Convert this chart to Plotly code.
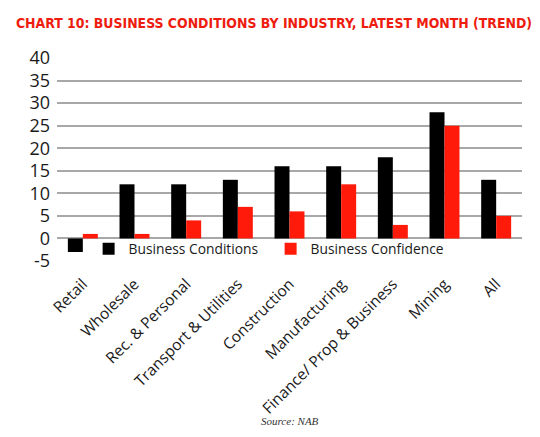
import plotly.graph_objects as go

categories = ["Retail", "Wholesale", "Rec. & Personal", "Transport & Utilities",
              "Construction", "Manufacturing", "Finance/ Prop & Business", "Mining", "All"]
business_conditions = [-3, 12, 12, 13, 16, 16, 18, 28, 13]
business_confidence = [1, 1, 4, 7, 6, 12, 3, 25, 5]
y_ticks = [-5, 0, 5, 10, 15, 20, 25, 30, 35, 40]
y_tick_labels = ["-5", "0", "5", "10", "15", "20", "25", "30", "35", "40"]

Y_MIN, Y_MAX = -5, 40

fig = go.Figure()
fig.add_trace(go.Bar(x=categories, y=business_conditions, name="Business Conditions",
                     marker=dict(color="#000000", line=dict(width=0))))
fig.add_trace(go.Bar(x=categories, y=business_confidence, name="Business Confidence",
                     marker=dict(color="#ff1a0a", line=dict(width=0))))

fig.update_layout(
    width=532, height=429,
    margin=dict(l=49, r=18, t=50, b=176, autoexpand=False),
    paper_bgcolor="white", plot_bgcolor="white",
    barmode="group", bargap=0.42, bargroupgap=0,
    font=dict(family="Open Sans", color="#1a1a1a"),
    title=dict(text="<b>CHART 10: BUSINESS CONDITIONS BY INDUSTRY, LATEST MONTH (TREND)</b>",
               font=dict(family="DejaVu Sans Condensed", size=13.9, color="#ee1c0e"),
               x=0.5, xanchor="center", xref="container",
               y=0.965, yanchor="middle", yref="container"),
    showlegend=True,
    legend=dict(orientation="h", x=0.068, y=0.06, xanchor="left", yanchor="middle",
                bgcolor="rgba(0,0,0,0)", borderwidth=0,
                font=dict(size=13.8, family="Open Sans", color="#1a1a1a"),
                entrywidth=137, entrywidthmode="pixels", itemwidth=30),
    xaxis=dict(tickangle=-45, tickfont=dict(size=15.5, family="Open Sans", color="#1a1a1a"),
               showgrid=False, showline=False, ticks="", automargin=False,
               ticklabelstandoff=10),
    yaxis=dict(range=[Y_MIN, Y_MAX], tickvals=y_ticks, ticktext=y_tick_labels,
               tickfont=dict(size=18, family="Open Sans", color="#1a1a1a"),
               showgrid=True, gridcolor="#a8a8a8", gridwidth=1.5,
               zeroline=True, zerolinecolor="#a8a8a8", zerolinewidth=1.5,
               showline=False, ticks="", ticklabelstandoff=6, automargin=False),
    annotations=[dict(text="<i>Source: NAB</i>", x=0.5, xref="paper", xanchor="center",
                      y=-0.79, yref="paper", yanchor="middle", showarrow=False,
                      font=dict(family="Liberation Serif", size=11, color="#333333"))],
)

fig.write_html("out.html")
